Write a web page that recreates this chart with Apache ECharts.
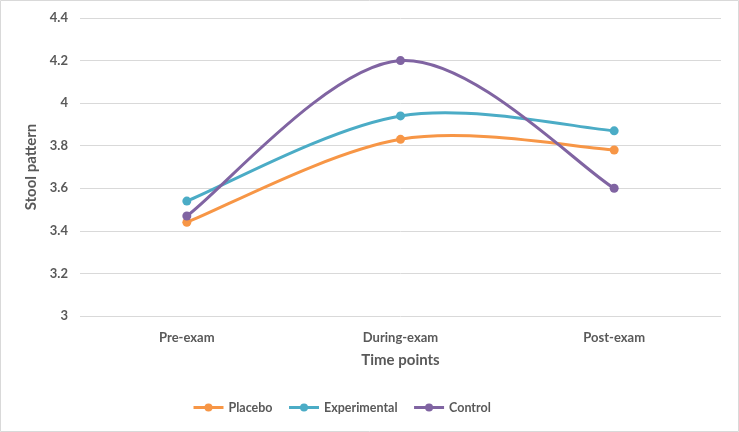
<!DOCTYPE html>
<html><head><meta charset="utf-8">
<script src="https://cdn.jsdelivr.net/npm/echarts@6/dist/echarts.min.js"></script>
<style>html,body{margin:0;padding:0;background:#fff}#c{width:739px;height:432px}</style>
</head><body><div id="c"></div>
<script>
const categories = ["Pre-exam", "During-exam", "Post-exam"];
const placebo = [3.44, 3.83, 3.78];
const experimental = [3.54, 3.94, 3.87];
const control = [3.47, 4.20, 3.60];
const seriesNames = ["Placebo", "Experimental", "Control"];
const colors = ["#F79646", "#4BACC6", "#8064A2"];

const font = "Lato, 'Open Sans', sans-serif";
const chart = echarts.init(document.getElementById('c'));

// markers (line hidden; curve drawn by custom series using axis coords)
function markers(name, data, color) {
  return {
    name, type: 'line', data, color, z: 4,
    symbol: 'circle', symbolSize: 9,
    lineStyle: { width: 3, color, opacity: 0 },
    itemStyle: { color }
  };
}
// Excel-like smoothed curve (Catmull-Rom style Bezier), positions via api.coord
function curve(name, values, color) {
  return {
    name: name + ' curve', type: 'custom', z: 3,
    data: values.map((v, i) => [i, v]),
    encode: { x: 0, y: 1 },
    renderItem(params, api) {
      if (params.dataIndex !== 0) return null;
      const p = values.map((v, i) => api.coord([i, v]));
      const n = p.length;
      const tan = i => {
        const a = p[Math.max(0, i - 1)], b = p[Math.min(n - 1, i + 1)];
        return [b[0] - a[0], b[1] - a[1]];
      };
      const children = [];
      for (let i = 0; i < n - 1; i++) {
        const t0 = tan(i), t1 = tan(i + 1);
        const k = 1 / 6;
        children.push({
          type: 'bezierCurve',
          shape: {
            x1: p[i][0], y1: p[i][1],
            cpx1: p[i][0] + t0[0] * k, cpy1: p[i][1] + t0[1] * k,
            cpx2: p[i + 1][0] - t1[0] * k, cpy2: p[i + 1][1] - t1[1] * k,
            x2: p[i + 1][0], y2: p[i + 1][1]
          },
          style: { stroke: color, lineWidth: 3, fill: null, lineCap: 'round' }
        });
      }
      return { type: 'group', children };
    }
  };
}
chart.setOption({
  animation: false,
  textStyle: { fontFamily: font },
  graphic: [{
    type: 'rect', shape: { x: 0.5, y: 0.5, width: 738, height: 431 },
    style: { fill: 'none', stroke: '#d9d9d9', lineWidth: 1 }, silent: true, z: 100
  }],
  grid: { left: 80, right: 18, top: 18, bottom: 116 },
  xAxis: {
    type: 'category', data: categories, boundaryGap: true,
    axisLine: { show: false }, axisTick: { show: false },
    axisLabel: { color: '#595959', fontWeight: 'bold', fontSize: 13, margin: 15, fontFamily: font },
    name: 'Time points', nameLocation: 'middle', nameGap: 37,
    nameTextStyle: { color: '#595959', fontWeight: 'bold', fontSize: 15, fontFamily: font }
  },
  yAxis: {
    type: 'value', min: 3, max: 4.4, interval: 0.2,
    axisLine: { show: false }, axisTick: { show: false },
    splitLine: { lineStyle: { color: '#d9d9d9', width: 1 } },
    axisLabel: { color: '#595959', fontWeight: 'bold', fontSize: 13, margin: 12, fontFamily: font,
      formatter: v => String(Math.round(v * 10) / 10) },
    name: 'Stool pattern', nameLocation: 'middle', nameGap: 32,
    nameTextStyle: { color: '#595959', fontWeight: 'bold', fontSize: 15, fontFamily: font }
  },
  legend: {
    bottom: 13, left: 187, itemGap: 15, itemWidth: 30, itemHeight: 10,
    textStyle: { color: '#595959', fontWeight: 'bold', fontSize: 12.5, fontFamily: font },
    data: seriesNames.map((n, i) => ({ name: n, lineStyle: { opacity: 1, width: 3, color: colors[i] } }))
  },
  series: [
    markers(seriesNames[0], placebo, colors[0]),
    markers(seriesNames[1], experimental, colors[1]),
    markers(seriesNames[2], control, colors[2]),
    curve(seriesNames[0], placebo, colors[0]),
    curve(seriesNames[1], experimental, colors[1]),
    curve(seriesNames[2], control, colors[2])
  ]
});
</script></body></html>
